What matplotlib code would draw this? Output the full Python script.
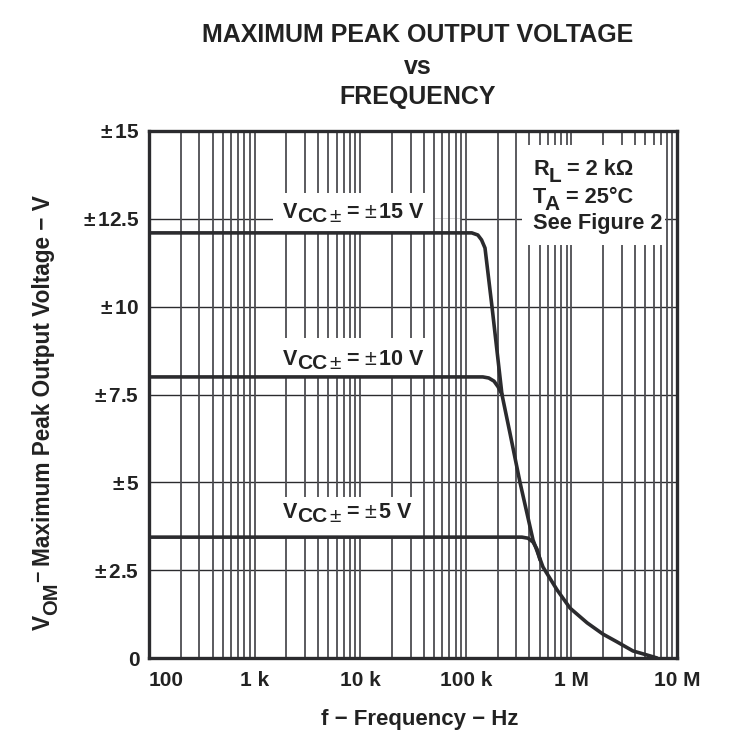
import matplotlib
matplotlib.use("Agg")
import matplotlib.pyplot as plt
import matplotlib.transforms as mtransforms
from matplotlib.patches import Rectangle

plt.rcParams['font.family'] = ['Liberation Sans', 'DejaVu Sans']
plt.rcParams['font.weight'] = 'bold'
plt.rcParams['mathtext.fontset'] = 'custom'
plt.rcParams['mathtext.rm'] = 'Liberation Sans:bold'
plt.rcParams['mathtext.bf'] = 'Liberation Sans:bold'
plt.rcParams['mathtext.it'] = 'Liberation Sans:bold'
plt.rcParams['mathtext.sf'] = 'Liberation Sans'

# ---- data ----
freq_15 = [100, 114e3, 130e3, 141e3, 152e3, 177e3, 220e3, 262e3, 326e3, 433e3,
           538e3, 731e3, 971e3, 1.41e6, 1.99e6, 2.70e6, 3.83e6, 5.2e6, 6.47e6]
vom_15 = [12.1, 12.1, 12.04, 11.9, 11.67, 10.0, 7.5, 6.4, 5.0, 3.36,
          2.59, 1.94, 1.42, 1.0, 0.68, 0.46, 0.2, 0.085, 0.0]

freq_10 = [100, 145e3, 165e3, 185e3, 202e3, 220e3]
vom_10 = [8.0, 8.0, 7.97, 7.88, 7.72, 7.5]

freq_5 = [100, 340e3, 388e3, 433e3, 472e3, 505e3]
vom_5 = [3.44, 3.44, 3.41, 3.3, 3.1, 2.79]

x_ticks = [1e2, 1e3, 1e4, 1e5, 1e6, 1e7]
x_ticklabels = ['100', '1 k', '10 k', '100 k', '1 M', '10 M']
y_ticks = [0, 2.5, 5, 7.5, 10, 12.5, 15]
y_ticklabels = ['0', r'$\mathsf{\pm}\,$2.5', r'$\mathsf{\pm}\,$5', r'$\mathsf{\pm}\,$7.5',
                r'$\mathsf{\pm}\,$10', r'$\mathsf{\pm}\,$12.5', r'$\mathsf{\pm}\,$15']

supply_values = ['15 V', '10 V', '5 V']

TXT = '#222222'
dark = '#2b2b2e'
grid_c = '#4d4d52'

fig = plt.figure(figsize=(7.42, 7.5), dpi=100)
ax = fig.add_axes([149/742, 1-658/750, 528/742, 527/750])
ax.set_xscale('log')
ax.set_xlim(1e2, 1e7)
ax.set_ylim(0, 15)

# gridlines
ax.xaxis.grid(True, which='both', color=grid_c, linewidth=1.3)
ax.yaxis.grid(True, which='major', color=dark, linewidth=1.0)
ax.xaxis.set_zorder(0.5)
ax.yaxis.set_zorder(0.3)
ax.xaxis.set_minor_locator(matplotlib.ticker.LogLocator(base=10, subs=range(2, 10), numticks=20))
ax.xaxis.set_minor_formatter(matplotlib.ticker.NullFormatter())

ax.set_xticks(x_ticks)
ax.set_xticklabels(x_ticklabels)
ax.set_yticks(y_ticks)
ax.set_yticklabels(y_ticklabels)
ax.tick_params(axis='both', which='both', length=0, labelsize=15, colors=TXT)
ax.tick_params(axis='x', pad=9)
ax.tick_params(axis='y', pad=7)
for lbl in ax.get_xticklabels() + ax.get_yticklabels():
    lbl.set_fontweight('bold')
ax.get_xticklabels()[0].set_horizontalalignment('left')

for s in ax.spines.values():
    s.set_linewidth(2.4)
    s.set_color(dark)
    s.set_zorder(5)

# curves
for f, v in [(freq_15, vom_15), (freq_10, vom_10), (freq_5, vom_5)]:
    ax.plot(f, v, color=dark, linewidth=2.6, solid_joinstyle='round',
            solid_capstyle='round', zorder=3)

renderer = fig.canvas.get_renderer()


def draw_pieces(target, base_tr, x, y, pieces, rotation=0, zorder=4):
    adv = 0.0
    for text, size, shift, weight, gap in pieces:
        adv += gap
        if rotation == 0:
            ox, oy = adv, shift
        else:
            ox, oy = -shift, adv
        tr = mtransforms.offset_copy(base_tr, fig=fig, x=ox, y=oy, units='points')
        t = target.text(x, y, text, transform=tr, fontsize=size, fontweight=weight,
                        color=TXT, ha='left', va='baseline', rotation=rotation,
                        rotation_mode='anchor', zorder=zorder)
        bb = t.get_window_extent(renderer)
        adv += (bb.width if rotation == 0 else bb.height) * 72.0 / fig.dpi


# white boxes behind curve labels (interrupt grid)
boxes = [(0.2348, 0.8065, 0.3031, 0.0759), (0.2348, 0.5332, 0.3031, 0.0740),
         (0.2348, 0.2296, 0.2841, 0.0759), (0.706, 0.784, 0.2705, 0.189)]
for bx, by, bw, bh in boxes:
    ax.add_patch(Rectangle((bx, by), bw, bh, transform=ax.transAxes,
                           facecolor='white', edgecolor='none', zorder=1.5))
# gap in the 12.5 V gridline right of the top label
ax.add_patch(Rectangle((0.53, 0.822), 0.06, 0.0115, transform=ax.transAxes,
                       facecolor='white', edgecolor='none', zorder=0.4))

label_base = [(0.2538, 0.835), (0.2538, 0.556), (0.2538, 0.2657)]
for val, (xp, yp) in zip(supply_values, label_base):
    draw_pieces(ax, ax.transAxes, xp, yp, [
        ('V', 15.5, 0, 'bold', 0),
        ('CC', 15, -3, 'bold', 0),
        ('±', 15, -3, 'normal', 1.0),
        ('=', 15.5, 0, 'bold', 4.0),
        ('±', 15.5, 0, 'normal', 4.5),
        (val, 15.5, 0, 'bold', 1.5),
    ])

# conditions
draw_pieces(ax, ax.transAxes, 0.7273, 0.9165, [
    ('R', 15.7, 0, 'bold', 0), ('L', 15, -5, 'bold', 0), ('= 2 kΩ', 15.7, 0, 'bold', 4)])
draw_pieces(ax, ax.transAxes, 0.7273, 0.8634, [
    ('T', 15.7, 0, 'bold', 0), ('A', 15, -5, 'bold', -1), ('= 25°C', 15.7, 0, 'bold', 4)])
ax.text(0.7273, 0.814, 'See Figure 2', transform=ax.transAxes, ha='left', va='baseline',
        fontsize=15.7, fontweight='bold', color=TXT, zorder=4)

# titles
for line, yp in [('MAXIMUM PEAK OUTPUT VOLTAGE', 35), ('vs', 67), ('FREQUENCY', 97)]:
    fig.text(418/742, 1-yp/750, line, ha='center', va='center',
             fontsize=18, fontweight='bold', color=TXT)

fig.text(420/742, 1-720/750, 'f − Frequency − Hz', ha='center', va='center',
         fontsize=16, fontweight='bold', color=TXT)

# y axis label, rotated, built from pieces
draw_pieces(fig, fig.transFigure, 50/742, 120/750, [
    ('V', 16.3, 0, 'bold', 0),
    ('OM', 14.5, -5, 'bold', 0),
    ('−', 14, 4, 'bold', 0.5),
    ('Maximum Peak Output Voltage − V', 16.3, 0, 'bold', 3),
], rotation=90)

fig.savefig('out.png', dpi=100)
